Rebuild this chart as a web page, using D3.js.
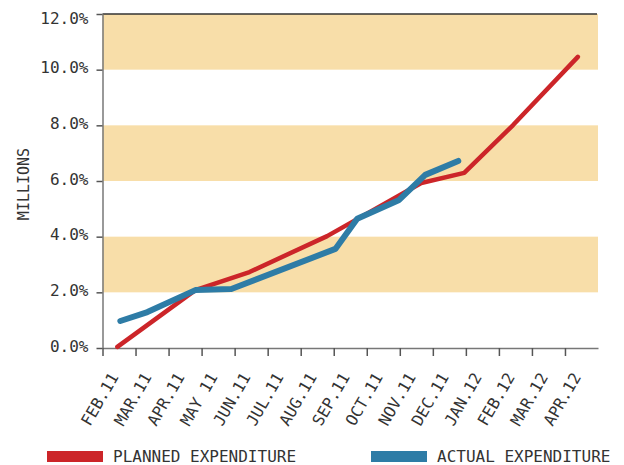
<!DOCTYPE html>
<html>
<head>
<meta charset="utf-8">
<script src="https://cdn.jsdelivr.net/npm/d3@7/dist/d3.min.js"></script>
<style>
  html, body { margin: 0; padding: 0; background: #fff; }
  svg { display: block; }
  text { font-family: "DejaVu Sans Mono", monospace; fill: #333; }
</style>
</head>
<body>
<svg id="chart" width="624" height="465"></svg>
<script>
// ---- data ----
const monthLabels = ["FEB.11","MAR.11","APR.11","MAY 11","JUN.11","JUL.11","AUG.11","SEP.11","OCT.11","NOV.11","DEC.11","JAN.12","FEB.12","MAR.12","APR.12"];
const yTickValues = [0, 2, 4, 6, 8, 10, 12];
const bandRanges = [[2, 4], [6, 8], [10, 12]];
// x positions are in months from 1 Feb 2011
const plannedMonth = [0.45, 2.81, 4.45, 6.80, 9.65, 10.95, 12.43, 14.39];
const plannedValue = [0.04, 2.08, 2.73, 4.02, 5.93, 6.29, 8.01, 10.46];
const actualMonth  = [0.54, 1.36, 2.81, 3.90, 7.05, 7.71, 8.98, 9.77, 10.77];
const actualValue  = [0.97, 1.29, 2.08, 2.12, 3.56, 4.64, 5.32, 6.22, 6.72];
const seriesNames = ["PLANNED EXPENDITURE", "ACTUAL EXPENDITURE"];
const seriesColors = ["#cc2529", "#2e7ca6"];

(function () {
// ---- layout ----
const svg = d3.select("#chart");
const pLeft = 102.5, pRight = 598, pTop = 14, pBottom = 348;
const x = d3.scaleLinear().domain([0, monthLabels.length]).range([pLeft, pRight]);
const y = d3.scaleLinear().domain([0, 12]).range([pBottom, pTop]);

// bands
svg.append("g").selectAll("rect").data(bandRanges).join("rect")
  .attr("x", pLeft).attr("width", pRight - pLeft)
  .attr("y", d => y(d[1])).attr("height", d => y(d[0]) - y(d[1]))
  .attr("fill", "#f8dea9");

// top border
svg.append("line").attr("x1", pLeft).attr("x2", pRight - 1).attr("y1", y(12)).attr("y2", y(12))
  .attr("stroke", "#333").attr("stroke-width", 1.5);

// y axis
const yAxis = svg.append("g").attr("transform", `translate(${pLeft},0)`)
  .call(d3.axisLeft(y).tickValues(yTickValues).tickSize(6).tickSizeOuter(0).tickPadding(8)
    .tickFormat(d => d.toFixed(1) + "%"));
yAxis.select(".domain").attr("stroke", "#777").attr("stroke-width", 1.5);
yAxis.selectAll(".tick line").attr("stroke", "#555").attr("stroke-width", 1.5);
yAxis.selectAll(".tick text")
  .style("font-family", "DejaVu Sans Mono").style("font-size", "16px").attr("fill", "#333")
  .attr("dy", d => d === 12 ? "9.5px" : "3.3px");

// x axis
const xAxis = svg.append("g").attr("transform", `translate(0,${pBottom})`)
  .call(d3.axisBottom(x).tickValues(d3.range(monthLabels.length)).tickSize(8).tickSizeOuter(0)
    .tickFormat(() => ""));
xAxis.select(".domain").attr("stroke", "#777").attr("stroke-width", 1.5);
xAxis.selectAll(".tick line").attr("stroke", "#555").attr("stroke-width", 1.5);

svg.append("g").selectAll("text").data(monthLabels).join("text")
  .attr("transform", (d, i) => `translate(${x(i + 0.5)},377) rotate(-60)`)
  .attr("text-anchor", "end")
  .style("font-size", "16px")
  .text(d => d);

// y title
svg.append("text")
  .attr("transform", `translate(29,184) rotate(-90)`)
  .attr("text-anchor", "middle")
  .style("font-size", "15px")
  .text("MILLIONS");

// lines
const line = d3.line().x(d => x(d[0])).y(d => y(d[1]));
const plannedPts = plannedMonth.map((m, i) => [m, plannedValue[i]]);
const actualPts = actualMonth.map((m, i) => [m, actualValue[i]]);

svg.append("path").datum(plannedPts).attr("d", line)
  .attr("fill", "none").attr("stroke", seriesColors[0]).attr("stroke-width", 4.5)
  .attr("stroke-linejoin", "round").attr("stroke-linecap", "round");
svg.append("path").datum(actualPts).attr("d", line)
  .attr("fill", "none").attr("stroke", seriesColors[1]).attr("stroke-width", 6)
  .attr("stroke-linejoin", "round").attr("stroke-linecap", "round");

// legend
const legendX = [47, 371];
const lg = svg.append("g").selectAll("g").data(seriesNames).join("g")
  .attr("transform", (d, i) => `translate(${legendX[i]},0)`);
lg.append("rect").attr("x", 0).attr("y", 451).attr("width", 56).attr("height", 11)
  .attr("fill", (d, i) => seriesColors[i]);
lg.append("text").attr("x", 66).attr("y", 461.5).style("font-size", "16px").text(d => d);
})();
</script>
</body>
</html>
